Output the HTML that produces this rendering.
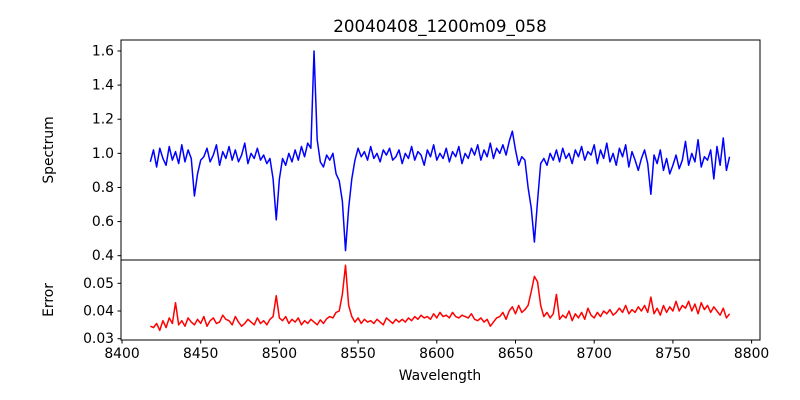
<!DOCTYPE html>
<html><head><meta charset="utf-8"><style>
body{margin:0;background:#fff;}
svg{display:block;font-family:"DejaVu Sans","Liberation Sans",sans-serif;}
</style></head><body>
<svg id="chart" width="800" height="400"></svg>
<script>
const wlStart = 8418, wlStep = 2;
const flux = [
0.95,1.02,0.92,1.03,0.97,0.93,1.04,0.96,1.01,0.94,
1.05,0.95,1.02,0.97,0.75,0.88,0.96,0.98,1.03,0.95,
0.99,1.05,0.93,1.01,0.97,1.04,0.96,1.02,0.95,0.99,
1.06,0.94,1.00,0.97,1.03,0.96,0.99,0.94,0.97,0.85,
0.61,0.85,0.97,0.93,1.00,0.95,1.02,0.96,1.04,0.98,
1.06,1.03,1.60,1.08,0.95,0.92,0.99,0.96,1.00,0.88,
0.84,0.72,0.43,0.68,0.85,0.96,1.03,0.98,1.01,0.96,
1.04,0.97,1.00,0.95,1.02,0.99,1.03,0.96,0.98,1.02,
0.94,1.00,0.97,1.04,0.96,1.01,0.99,0.93,1.02,0.98,
1.05,0.96,1.00,0.97,1.03,0.95,1.01,0.98,1.04,0.94,
1.00,0.97,1.03,0.99,1.05,0.96,1.02,0.98,1.06,0.97,
1.03,1.00,1.05,0.99,1.07,1.13,1.02,0.93,0.98,0.96,
0.80,0.68,0.48,0.72,0.94,0.97,0.93,1.00,0.96,1.02,
0.95,1.03,0.97,1.00,0.94,1.02,0.98,1.04,0.96,1.01,
0.99,1.05,0.94,1.02,0.97,1.06,0.95,1.00,0.93,1.03,
0.98,1.05,0.92,1.01,0.96,0.90,0.97,1.02,0.94,0.76,
0.99,0.94,1.02,0.90,0.97,0.88,0.93,0.99,0.91,0.96,
1.07,0.93,1.00,0.95,1.08,0.92,0.98,0.96,1.02,0.85,
1.04,0.93,1.09,0.90,0.98];
const err = [
0.0345,0.0340,0.0355,0.0330,0.0365,0.0340,0.0375,0.0355,0.0430,0.0350,
0.0365,0.0345,0.0375,0.0360,0.0350,0.0370,0.0355,0.0380,0.0345,0.0365,
0.0375,0.0355,0.0360,0.0385,0.0370,0.0365,0.0350,0.0380,0.0360,0.0345,
0.0355,0.0370,0.0360,0.0350,0.0375,0.0355,0.0365,0.0350,0.0370,0.0380,
0.0455,0.0375,0.0365,0.0380,0.0355,0.0370,0.0360,0.0375,0.0350,0.0365,
0.0355,0.0370,0.0360,0.0350,0.0368,0.0355,0.0372,0.0380,0.0375,0.0395,
0.0400,0.0460,0.0565,0.0420,0.0380,0.0360,0.0375,0.0355,0.0370,0.0360,
0.0365,0.0355,0.0370,0.0360,0.0350,0.0375,0.0365,0.0355,0.0370,0.0360,
0.0370,0.0360,0.0375,0.0365,0.0380,0.0370,0.0385,0.0375,0.0380,0.0370,
0.0390,0.0375,0.0395,0.0380,0.0385,0.0375,0.0395,0.0380,0.0375,0.0385,
0.0380,0.0375,0.0390,0.0370,0.0365,0.0375,0.0360,0.0370,0.0345,0.0360,
0.0375,0.0380,0.0395,0.0370,0.0400,0.0415,0.0390,0.0420,0.0395,0.0405,
0.0420,0.0470,0.0525,0.0505,0.0420,0.0380,0.0395,0.0375,0.0390,0.0460,
0.0370,0.0385,0.0375,0.0400,0.0365,0.0390,0.0375,0.0395,0.0370,0.0410,
0.0385,0.0375,0.0395,0.0380,0.0400,0.0390,0.0405,0.0385,0.0395,0.0410,
0.0395,0.0420,0.0390,0.0405,0.0395,0.0415,0.0400,0.0420,0.0395,0.0450,
0.0390,0.0410,0.0385,0.0420,0.0395,0.0415,0.0400,0.0435,0.0400,0.0420,
0.0410,0.0435,0.0400,0.0425,0.0390,0.0430,0.0405,0.0420,0.0395,0.0415,
0.0400,0.0385,0.0410,0.0375,0.0390];
const xTicks = [8400,8450,8500,8550,8600,8650,8700,8750,8800];
const topTicks = [0.4,0.6,0.8,1.0,1.2,1.4,1.6];
const botTicks = [0.03,0.04,0.05];

const NS="http://www.w3.org/2000/svg";
const svg=document.getElementById('chart');
const L=121,R=760,T=40,M=260,B=340;
const X=v=>122+(v-8400)*1.574;
const YT=v=>255.7-(v-0.4)*170.6;
const YB=v=>338.7-(v-0.03)*2770;
function mk(tag,attrs,txt){const e=document.createElementNS(NS,tag);for(const k in attrs)e.setAttribute(k,attrs[k]);if(txt!==undefined)e.textContent=txt;svg.appendChild(e);return e;}

let e;
e=mk('text',{x:440,y:32,'text-anchor':'middle','font-size':16.7},'20040408_1200m09_058');



function line(arr,Y,color,name){
  let d='';arr.forEach((v,i)=>{d+=(i?'L':'M')+X(wlStart+wlStep*i).toFixed(2)+','+Y(v).toFixed(2);});
  const p=mk('path',{d:d,fill:'none',stroke:color,'stroke-width':1.5,'stroke-linejoin':'round'});
  
  
}
line(flux,YT,'#0000ff','spectrum-line');
line(err,YB,'#ff0000','error-line');

e=mk('rect',{x:L,y:T,width:R-L,height:M-T,fill:'none',stroke:'#000','stroke-width':1});


e=mk('rect',{x:L,y:M,width:R-L,height:B-M,fill:'none',stroke:'#000','stroke-width':1});



topTicks.forEach(v=>{
  mk('line',{x1:L-3.5,x2:L,y1:YT(v),y2:YT(v),stroke:'#000'});
  e=mk('text',{x:L-7,y:YT(v)+4.5,'text-anchor':'end','font-size':13.9},v.toFixed(1));
  
  
});
botTicks.forEach(v=>{
  mk('line',{x1:L-3.5,x2:L,y1:YB(v),y2:YB(v),stroke:'#000'});
  e=mk('text',{x:L-7,y:YB(v)+4.5,'text-anchor':'end','font-size':13.9},v.toFixed(2));
  
  
});
xTicks.forEach(v=>{
  mk('line',{x1:X(v),x2:X(v),y1:B,y2:B+3.5,stroke:'#000'});
  e=mk('text',{x:X(v),y:B+18,'text-anchor':'middle','font-size':13.9},String(v));
  
  
});
e=mk('text',{x:440,y:380,'text-anchor':'middle','font-size':13.9},'Wavelength');


e=mk('text',{x:0,y:0,'text-anchor':'middle','font-size':13.9,transform:'translate(53,150) rotate(-90)'},'Spectrum');


e=mk('text',{x:0,y:0,'text-anchor':'middle','font-size':13.9,transform:'translate(53,300) rotate(-90)'},'Error');


</script>
</body></html>
